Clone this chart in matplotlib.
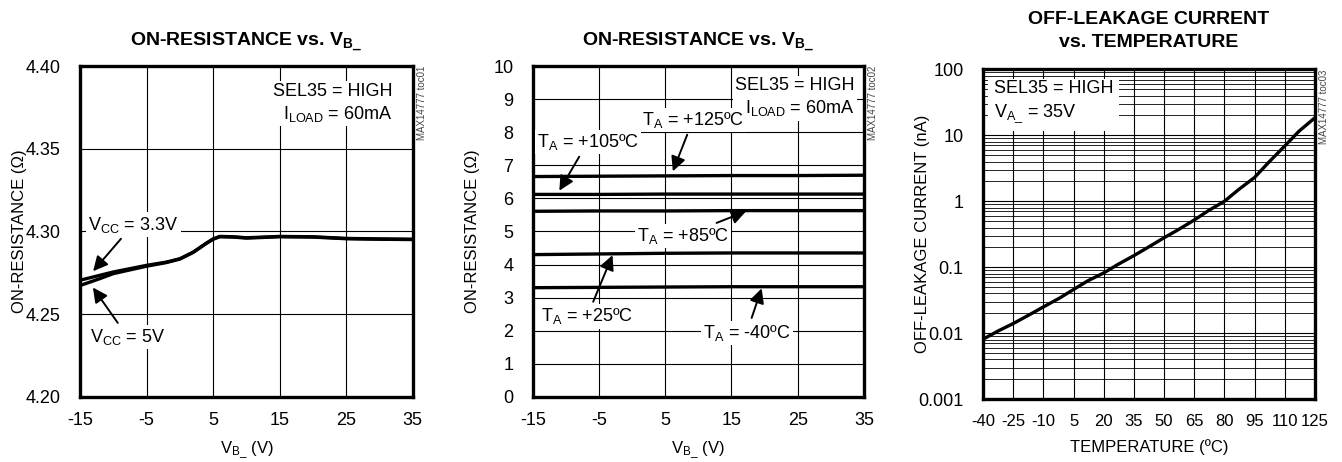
import matplotlib
matplotlib.use('Agg')
import matplotlib.pyplot as plt
from matplotlib import font_manager
from matplotlib.ticker import FixedLocator, LogLocator, NullFormatter, FuncFormatter

names = {f.name for f in font_manager.fontManager.ttflist}
fam = 'Liberation Sans Narrow' if 'Liberation Sans Narrow' in names else 'Liberation Sans'
plt.rcParams['font.family'] = fam
plt.rcParams['mathtext.fontset'] = 'custom'
plt.rcParams['mathtext.rm'] = fam
plt.rcParams['mathtext.it'] = fam + ':italic'
plt.rcParams['mathtext.bf'] = fam + ':bold'
plt.rcParams['axes.unicode_minus'] = False

# ---- data: panel 1 (on-resistance vs VB, two supplies)
vb1 = [-15, -12, -10, -5, -2, 0, 2, 4, 5, 6, 8, 10, 12, 15, 20, 25, 30, 35]
ron_33 = [4.2705, 4.2735, 4.2755, 4.2795, 4.2815, 4.2835, 4.2875, 4.2930, 4.2955,
          4.2970, 4.2968, 4.2962, 4.2965, 4.2970, 4.2968, 4.2958, 4.2955, 4.2953]
ron_5 = [4.2673, 4.2715, 4.2745, 4.2790, 4.2812, 4.2833, 4.2873, 4.2928, 4.2953,
         4.2968, 4.2966, 4.2960, 4.2963, 4.2968, 4.2966, 4.2956, 4.2953, 4.2951]

# ---- data: panel 2 (on-resistance vs VB, temperatures)
vb2 = [-15, -5, 5, 15, 25, 35]
ron_m40 = [3.30, 3.31, 3.32, 3.33, 3.33, 3.33]
ron_25 = [4.30, 4.32, 4.34, 4.35, 4.35, 4.35]
ron_85 = [5.61, 5.62, 5.62, 5.63, 5.63, 5.63]
ron_105 = [6.12, 6.12, 6.13, 6.13, 6.13, 6.13]
ron_125 = [6.66, 6.67, 6.68, 6.69, 6.69, 6.70]

# ---- data: panel 3 (off-leakage vs temperature)
temp = [-40, -32, -25, -17, -10, -2, 5, 12, 20, 27, 35, 42, 50, 57, 65, 72, 80,
        87, 95, 102, 110, 117, 125]
ileak = [0.0081, 0.011, 0.014, 0.019, 0.025, 0.034, 0.046, 0.062, 0.082, 0.11, 0.15,
         0.2, 0.28, 0.37, 0.52, 0.72, 1.0, 1.5, 2.3, 3.9, 6.9, 11.5, 18.5]

temp_ticks = [-40, -25, -10, 5, 20, 35, 50, 65, 80, 95, 110, 125]

fig = plt.figure(figsize=(13.42, 4.62), dpi=100)
ax1 = fig.add_axes([0.0596, 0.141, 0.248, 0.716])
ax2 = fig.add_axes([0.397, 0.141, 0.2467, 0.716])
ax3 = fig.add_axes([0.7325, 0.136, 0.2474, 0.714])

TFS = 13
LFS = 12
box = dict(facecolor='white', edgecolor='none', pad=1.5)
arr = dict(arrowstyle='-|>', color='black', lw=1.4, mutation_scale=22)


def style(ax, tag):
    ax.set_axisbelow(True)
    ax.grid(True, which='major', color='black', lw=0.8)
    for s in ax.spines.values():
        s.set_linewidth(2.4)
    ax.tick_params(length=0, labelsize=TFS)
    ax.tick_params(axis='y', pad=14)
    ax.tick_params(axis='x', pad=11)
    ax.text(1.027, 1.0, 'MAX14777 ' + tag, transform=ax.transAxes, rotation=90,
            va='top', ha='center', fontsize=7, color='#444444')


# panel 1
ax1.plot(vb1, ron_33, color='black', lw=2.4)
ax1.plot(vb1, ron_5, color='black', lw=2.4)
ax1.set_xlim(-15, 35)
ax1.set_ylim(4.20, 4.40)
ax1.set_xticks([-15, -5, 5, 15, 25, 35])
ax1.set_yticks([4.20, 4.25, 4.30, 4.35, 4.40])
ax1.yaxis.set_major_formatter(FuncFormatter(lambda v, p: '%.2f' % v))
style(ax1, 'toc01')
ax1.set_title(r'ON-RESISTANCE vs. V$_\mathbf{B\_}$', fontsize=14, fontweight='bold', pad=14)
ax1.set_xlabel(r'V$_\mathrm{B\_}$ (V)', fontsize=LFS)
ax1.set_ylabel('ON-RESISTANCE (Ω)', fontsize=LFS)
ax1.yaxis.set_label_coords(-0.158, 0.5)
ax1.xaxis.set_label_coords(0.5, -0.128)
ax1.text(32, 4.390, 'SEL35 = HIGH\nI$_\\mathrm{LOAD}$ = 60mA', ha='right', va='top',
         fontsize=TFS, bbox=box, linespacing=1.3)
ax1.annotate('V$_\\mathrm{CC}$ = 3.3V', xy=(-13.3, 4.2747), xytext=(-7.0, 4.3042),
             ha='center', va='center', fontsize=TFS, bbox=box, arrowprops=arr)
ax1.annotate('V$_\\mathrm{CC}$ = 5V', xy=(-13.3, 4.2675), xytext=(-7.8, 4.236),
             ha='center', va='center', fontsize=TFS, bbox=box, arrowprops=arr)

# panel 2
for r in [ron_m40, ron_25, ron_85, ron_105, ron_125]:
    ax2.plot(vb2, r, color='black', lw=2.4)
ax2.set_xlim(-15, 35)
ax2.set_ylim(0, 10)
ax2.set_xticks([-15, -5, 5, 15, 25, 35])
ax2.set_yticks(range(0, 11))
style(ax2, 'toc02')
ax2.set_title(r'ON-RESISTANCE vs. V$_\mathbf{B\_}$', fontsize=14, fontweight='bold', pad=14)
ax2.set_xlabel(r'V$_\mathrm{B\_}$ (V)', fontsize=LFS)
ax2.set_ylabel('ON-RESISTANCE (Ω)', fontsize=LFS)
ax2.yaxis.set_label_coords(-0.159, 0.5)
ax2.xaxis.set_label_coords(0.5, -0.128)
ax2.text(33.6, 9.67, 'SEL35 = HIGH\nI$_\\mathrm{LOAD}$ = 60mA', ha='right', va='top',
         fontsize=TFS, bbox=box, linespacing=1.3)
labels2 = [
    ('T$_\\mathrm{A}$ = +105ºC', (-11.2, 6.16), (-6.7, 7.7)),
    ('T$_\\mathrm{A}$ = +125ºC', (6.0, 6.74), (9.2, 8.37)),
    ('T$_\\mathrm{A}$ = +85ºC', (17.6, 5.64), (7.7, 4.86)),
    ('T$_\\mathrm{A}$ = +25ºC', (-2.8, 4.36), (-6.8, 2.43)),
    ('T$_\\mathrm{A}$ = -40ºC', (19.7, 3.36), (17.3, 1.94)),
]
for txt, tip, pos in labels2:
    ax2.annotate(txt, xy=tip, xytext=pos, ha='center', va='center', fontsize=TFS,
                 bbox=box, arrowprops=arr)

# panel 3
ax3.plot(temp, ileak, color='black', lw=2.4)
ax3.set_yscale('log')
ax3.set_xlim(-40, 125)
ax3.set_ylim(0.001, 100)
ax3.xaxis.set_major_locator(FixedLocator(temp_ticks))
ax3.yaxis.set_major_locator(FixedLocator([0.001, 0.01, 0.1, 1, 10, 100]))
ax3.yaxis.set_minor_locator(LogLocator(base=10, subs=range(2, 10), numticks=20))
ax3.yaxis.set_minor_formatter(NullFormatter())
ax3.yaxis.set_major_formatter(FuncFormatter(lambda v, p: ('%g' % v)))
style(ax3, 'toc03')
ax3.tick_params(axis='x', labelsize=12)
ax3.grid(True, which='minor', axis='y', color='black', lw=0.6)
ax3.tick_params(which='minor', length=0)
ax3.set_title('OFF-LEAKAGE CURRENT\nvs. TEMPERATURE', fontsize=14, fontweight='bold', pad=16,
              linespacing=1.5)
ax3.set_xlabel('TEMPERATURE (ºC)', fontsize=LFS)
ax3.set_ylabel('OFF-LEAKAGE CURRENT (nA)', fontsize=LFS)
ax3.yaxis.set_label_coords(-0.159, 0.5)
ax3.xaxis.set_label_coords(0.5, -0.122)
ax3.text(-34.5, 68, 'SEL35 = HIGH\nV$_\\mathrm{A\\_}$ = 35V', ha='left', va='top',
         fontsize=TFS, bbox=dict(facecolor='white', edgecolor='none', pad=4), linespacing=1.4)

fig.savefig('out.png', dpi=100)
